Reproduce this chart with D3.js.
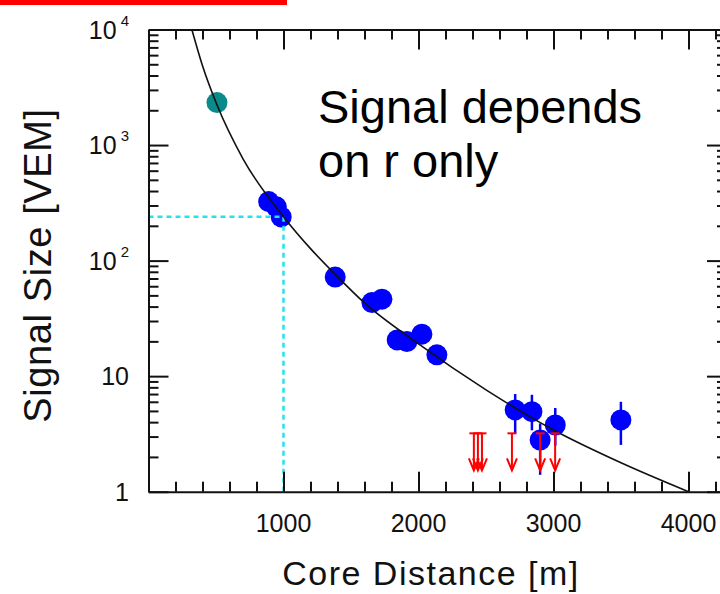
<!DOCTYPE html>
<html>
<head>
<meta charset="utf-8">
<script src="https://cdn.jsdelivr.net/npm/d3@7"></script>
<style>
  body { margin: 0; background: #fff; }
  svg { display: block; }
</style>
</head>
<body>
<div id="chart"></div>
<script>
// stations with a signal: core distance [m] and signal [VEM]
var stationR = [507, 890, 947, 983, 1383, 1655, 1729, 1842, 1914, 2025, 2136, 2716, 2840, 2901, 3013, 3499];
var stationS = [2330, 324, 292, 239, 72, 43.3, 46.4, 20.6, 19.9, 23.1, 15.3, 5.1, 4.93, 2.8, 3.78, 4.18];
var stationType = ["saturated", "ok", "ok", "ok", "ok", "ok", "ok", "ok", "ok", "ok", "ok", "ok", "ok", "ok", "ok", "ok"];

// error bars on the far stations
var errR  = [2716, 2840, 2901, 3013, 3499];
var errLo = [3.2, 3.4, 1.4, 2.5, 2.54];
var errHi = [7.0, 6.9, 3.9, 5.3, 6.0];

// silent stations (upper limits)
var limitR = [2410, 2440, 2470, 2692, 2901, 3012];
var limitS = [3.2, 3.2, 3.2, 3.2, 3.2, 3.2];

// lateral distribution fit
var fitR = [321, 400, 507, 700, 1000, 1200, 1383, 1600, 2000, 2500, 3000, 3500, 4000];
var fitS = [10000, 4860, 2230, 760, 240, 127, 76, 43, 19, 7.6, 3.42, 1.78, 1];

// S(1000) reference
var refR = 1000, refS = 240;

var xMajor = [1000, 2000, 3000, 4000];
var xMinor = d3.range(200, 4285, 200).filter(function(d) { return d % 1000 !== 0; });
var yMajor = [1, 10, 100, 1000, 10000];
var yMinor = [];
[1, 10, 100, 1000].forEach(function(dec) {
  for (var k = 2; k <= 9; k++) yMinor.push(dec * k);
});

var font = "'Liberation Sans', Arial, Helvetica, sans-serif";

var svg = d3.select("#chart").append("svg")
  .attr("width", 720)
  .attr("height", 594);

var x = d3.scaleLinear().domain([0, 4285]).range([148.5, 727]);
var y = d3.scaleLog().domain([1, 10000]).range([491.7, 29.5]);

var plotL = x.range()[0], plotR = x.range()[1];
var plotT = y.range()[1], plotB = y.range()[0];

// red bar in the top left corner
svg.append("rect")
  .attr("x", 0).attr("y", 0)
  .attr("width", 287).attr("height", 5)
  .attr("fill", "#ff0000");

// error bars
svg.selectAll(".err")
  .data(errR)
  .enter()
  .append("line")
  .attr("class", "err")
  .attr("x1", function(d) { return x(d); })
  .attr("x2", function(d) { return x(d); })
  .attr("y1", function(d, i) { return y(errHi[i]); })
  .attr("y2", function(d, i) { return y(errLo[i]); })
  .attr("stroke", "#0000ff")
  .attr("stroke-width", 2.5);

// stations
svg.selectAll(".station")
  .data(stationR)
  .enter()
  .append("circle")
  .attr("class", "station")
  .attr("cx", function(d) { return x(d); })
  .attr("cy", function(d, i) { return y(stationS[i]); })
  .attr("r", 10.5)
  .attr("fill", function(d, i) { return stationType[i] === "saturated" ? "#0b8a8a" : "#0000ff"; });

// S(1000) guide lines
svg.append("line")
  .attr("x1", plotL).attr("x2", x(refR))
  .attr("y1", y(refS)).attr("y2", y(refS))
  .attr("stroke", "#22e4ec").attr("stroke-width", 2.5)
  .attr("stroke-dasharray", "5,4");
svg.append("line")
  .attr("x1", x(refR)).attr("x2", x(refR))
  .attr("y1", y(refS)).attr("y2", plotB)
  .attr("stroke", "#22e4ec").attr("stroke-width", 2.5)
  .attr("stroke-dasharray", "5,4");

// fit curve
var fitLine = d3.line()
  .x(function(d) { return x(d); })
  .y(function(d, i) { return y(fitS[i]); })
  .curve(d3.curveMonotoneX);
svg.append("path")
  .datum(fitR)
  .attr("d", fitLine)
  .attr("fill", "none")
  .attr("stroke", "#111")
  .attr("stroke-width", 1.6);

// upper limits: cap, shaft, open arrow head
var arrowLen = 37;
var limits = svg.selectAll(".limit")
  .data(limitR)
  .enter()
  .append("g")
  .attr("class", "limit")
  .attr("transform", function(d, i) { return "translate(" + x(d) + "," + y(limitS[i]) + ")"; })
  .attr("stroke", "#ff0000")
  .attr("stroke-width", 2)
  .attr("fill", "none");
limits.append("line").attr("x1", -4.5).attr("x2", 4.5).attr("y1", 0).attr("y2", 0);
limits.append("line").attr("x1", 0).attr("x2", 0).attr("y1", 0).attr("y2", arrowLen);
limits.append("path").attr("d", "M-5," + (arrowLen - 12) + "L0," + arrowLen + "L5," + (arrowLen - 12));

// axes
function styleAxis(g) {
  g.selectAll("path").attr("stroke", "#111").attr("stroke-width", 2);
  g.selectAll("line").attr("stroke", "#111").attr("stroke-width", 2);
  g.selectAll("text").remove();
}
function noDomain(g) { g.select(".domain").remove(); }

svg.append("g").attr("transform", "translate(0," + plotB + ")")
  .call(d3.axisBottom(x).tickValues(xMajor).tickSizeInner(-20).tickSizeOuter(0)).call(styleAxis);
svg.append("g").attr("transform", "translate(0," + plotB + ")")
  .call(d3.axisBottom(x).tickValues(xMinor).tickSizeInner(-10).tickSizeOuter(0)).call(styleAxis).call(noDomain);
svg.append("g").attr("transform", "translate(0," + plotT + ")")
  .call(d3.axisTop(x).tickValues(xMajor).tickSizeInner(-20).tickSizeOuter(0)).call(styleAxis);
svg.append("g").attr("transform", "translate(0," + plotT + ")")
  .call(d3.axisTop(x).tickValues(xMinor).tickSizeInner(-10).tickSizeOuter(0)).call(styleAxis).call(noDomain);

svg.append("g").attr("transform", "translate(" + plotL + ",0)")
  .call(d3.axisLeft(y).tickValues(yMajor).tickSizeInner(-20).tickSizeOuter(0)).call(styleAxis);
svg.append("g").attr("transform", "translate(" + plotL + ",0)")
  .call(d3.axisLeft(y).tickValues(yMinor).tickSizeInner(-10).tickSizeOuter(0)).call(styleAxis).call(noDomain);
svg.append("g").attr("transform", "translate(" + plotR + ",0)")
  .call(d3.axisRight(y).tickValues(yMajor).tickSizeInner(-20).tickSizeOuter(0)).call(styleAxis);
svg.append("g").attr("transform", "translate(" + plotR + ",0)")
  .call(d3.axisRight(y).tickValues(yMinor).tickSizeInner(-10).tickSizeOuter(0)).call(styleAxis).call(noDomain);

// tick labels
svg.selectAll(".xlab")
  .data(xMajor)
  .enter()
  .append("text")
  .attr("class", "xlab")
  .attr("x", function(d) { return x(d); })
  .attr("y", plotB + 40)
  .attr("text-anchor", "middle")
  .attr("font-family", font)
  .attr("font-size", 25)
  .attr("fill", "#111")
  .text(function(d) { return d; });

var ylab = svg.selectAll(".ylab")
  .data(yMajor)
  .enter()
  .append("text")
  .attr("class", "ylab")
  .attr("x", 129)
  .attr("y", function(d) { return y(d) + 9; })
  .attr("text-anchor", "end")
  .attr("font-family", font)
  .attr("font-size", 25)
  .attr("fill", "#111");
ylab.each(function(d) {
  var e = Math.round(Math.log10(d));
  var t = d3.select(this);
  if (e < 2) {
    t.text(d);
  } else {
    t.append("tspan").text("10");
    t.append("tspan").attr("dx", 4).attr("dy", -13).attr("font-size", 15).text(e);
  }
});

// axis titles
svg.append("text")
  .attr("x", 431)
  .attr("y", 585)
  .attr("text-anchor", "middle")
  .attr("font-family", font)
  .attr("font-size", 34)
  .attr("letter-spacing", 1.5)
  .attr("fill", "#111")
  .text("Core Distance [m]");

svg.append("text")
  .attr("transform", "translate(51,265.5) rotate(-90)")
  .attr("text-anchor", "middle")
  .attr("font-family", font)
  .attr("font-size", 38)
  .attr("letter-spacing", 0.6)
  .attr("fill", "#111")
  .text("Signal Size [VEM]");

// annotation
var note = svg.append("text")
  .attr("font-family", font)
  .attr("font-size", 47)
  .attr("fill", "#000");
note.append("tspan").attr("x", 318).attr("y", 123).text("Signal depends");
note.append("tspan").attr("x", 318).attr("y", 177).text("on r only");
</script>
</body>
</html>
